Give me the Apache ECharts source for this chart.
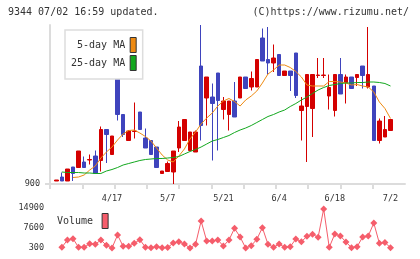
<!DOCTYPE html>
<html><head><meta charset="utf-8">
<script src="https://cdn.jsdelivr.net/npm/echarts@6/dist/echarts.min.js"></script>
<style>html,body{margin:0;padding:0;background:#fff}#c{width:420px;height:259px}</style>
</head><body><div id="c"></div>
<script>
// ---- data ----
const tickIdx  = [10, 20, 30, 40, 50, 60];
const tickText = ['4/17', '5/7', '5/21', '6/4', '6/18', '7/2'];

const opens  = [906,914,906,934,933,944,948,956,947,1009,959,1126,1039,987,1005,1044,992,987,974,921,925,924,972,987,967,964,1136,1072,1074,1122,1049,1039,1066,1072,1114,1094,1094,1192,1149,1142,1159,1117,1126,1162,1047,1055,1051,1117,1117,1076,1047,1119,1103,1114,1113,1136,1094,1096,987,994,1007];
const closes = [908,906,930,921,966,933,949,921,1009,999,996,1039,999,1006,1006,1009,972,959,933,926,941,966,1014,1029,1004,1004,1017,1114,1061,1067,1066,1066,1034,1114,1091,1111,1149,1146,1142,1152,1117,1126,1117,1077,1056,1119,1119,1118,1118,1093,1119,1080,1114,1091,1119,1117,1119,987,1026,1009,1029];
const lows   = [906,906,906,906,933,933,939,921,925,942,959,1027,994,987,991,1009,972,959,933,921,925,900,964,987,967,964,987,1017,947,967,1029,1007,1034,1072,1091,1087,1094,1146,1119,1124,1117,1117,1086,1072,987,944,994,1112,1112,1049,1035,1080,1061,1091,1096,1091,1091,987,981,994,1007];
const highs  = [908,923,930,934,966,955,959,967,1015,1009,996,1126,1039,1008,1063,1044,1011,987,974,926,945,966,1026,1029,1004,1007,1218,1114,1101,1122,1074,1066,1104,1114,1114,1125,1149,1211,1214,1179,1159,1126,1126,1162,1074,1119,1119,1152,1152,1119,1119,1152,1119,1114,1119,1136,1214,1096,1031,1036,1029];
const ma5    = [null,null,null,913,914,918,928,936,952,964,974,988,1000,1007,1008,1002,995,986,972,958,948,944,956,970,990,1004,1020,1032,1042,1056,1066,1071,1065,1056,1068,1076,1086,1102,1120,1128,1138,1138,1133,1125,1114,1098,1096,1096,1096,1105,1105,1104,1102,1098,1099,1096,1094,1084,1064,1051,1031];
const ma25   = [null,924,923,923,923,922,922,921,921,926,929,933,938,941,944,947,949,950,951,951,952,953,955,960,965,969,974,980,986,989,993,997,1003,1008,1012,1017,1023,1029,1035,1039,1044,1048,1055,1061,1068,1074,1081,1088,1093,1097,1099,1101,1102,1102,1103,1103,1104,1104,1103,1101,1096];
const volume = [null,560,3220,3700,560,560,1870,1650,3220,1280,300,5045,920,920,2000,3340,560,410,770,410,500,2120,2600,1760,300,1650,10155,2860,2860,3220,1030,3220,7490,4315,300,1140,3480,7720,1650,560,1760,560,770,3585,2600,4570,5300,4200,14535,560,5410,4680,2490,410,770,4315,4680,9425,2000,2300,410];
const priceLabels  = [900];
const volumeLabels = [300, 7600, 14900];

// ---- build ----
const mono = '"DejaVu Sans Mono", "Liberation Mono", monospace';
const candleData = opens.map((o, i) => [i, o, closes[i], lows[i], highs[i]]);
const pairs = arr => arr.map((v, i) => [i, v]).filter(p => p[1] !== null);

const xMin = -1.13, xMax = 62.6;
const xTicks = [];
for (let k = 0; k <= 11; k++) xTicks.push(xMin + k * (xMax - xMin) / 11);

const axisGray = '#dcdcdc';
const chart = echarts.init(document.getElementById('c'), null, {renderer: 'canvas', width: 420, height: 259});
chart.setOption({
  animation: false,
  backgroundColor: '#fff',
  graphic: [
    {type: 'text', left: 8, top: 7, style: {text: '9344 07/02 16:59 updated.', font: '10px ' + mono, fill: '#333'}},
    {type: 'text', right: 11, top: 7, style: {text: '(C)https://www.rizumu.net/', font: '10px ' + mono, fill: '#333'}}
  ],
  grid: [
    {left: 50, top: 25, width: 355, height: 159},
    {left: 50, top: 208, width: 355, height: 40}
  ],
  xAxis: [
    {type: 'value', gridIndex: 0, min: xMin, max: xMax,
     axisLine: {show: true, onZero: false, lineStyle: {color: axisGray, width: 2}},
     axisTick: {show: true, customValues: xTicks, length: 5, lineStyle: {color: axisGray, width: 2}},
     axisLabel: {customValues: tickIdx, formatter: v => { const j = tickIdx.indexOf(Math.round(v)); return j >= 0 ? tickText[j] : ''; },
                 fontFamily: mono, fontSize: 8.5, color: '#333', margin: 10},
     splitLine: {show: false}},
    {type: 'value', gridIndex: 1, min: xMin, max: xMax, show: false}
  ],
  yAxis: [
    {type: 'value', gridIndex: 0, min: 900, max: 1218,
     axisLine: {show: true, onZero: false, lineStyle: {color: axisGray, width: 2}},
     axisTick: {show: true, customValues: priceLabels, length: 5, lineStyle: {color: axisGray, width: 2}},
     axisLabel: {customValues: priceLabels, formatter: v => String(v), fontFamily: mono, fontSize: 8.5, color: '#333', margin: 10},
     splitLine: {show: false}},
    {type: 'value', gridIndex: 1, min: 300, max: 14900,
     axisLine: {show: false}, axisTick: {show: false}, splitLine: {show: false},
     axisLabel: {customValues: volumeLabels, formatter: v => String(v), fontFamily: mono, fontSize: 8.5, color: '#333', margin: 6}}
  ],
  legend: [
    {data: ['5-day MA', '25-day MA'], orient: 'vertical', align: 'right', left: 65, top: 30,
     padding: [7, 6, 8, 6], itemGap: 2, itemWidth: 6, itemHeight: 15, icon: 'rect',
     backgroundColor: '#fff', borderColor: '#dddddd', borderWidth: 1.5, selectedMode: false,
     textStyle: {fontFamily: mono, fontSize: 10, color: '#333'},
     itemStyle: {borderColor: '#333', borderWidth: 1}},
    {data: ['Volume'], orient: 'horizontal', align: 'right', left: 57, top: 213, padding: 0,
     itemWidth: 6, itemHeight: 15, icon: 'rect', selectedMode: false,
     textStyle: {fontFamily: mono, fontSize: 10, color: '#333', padding: [0, 4, 0, 0]},
     itemStyle: {borderColor: '#333', borderWidth: 1}}
  ],
  series: [
    {type: 'candlestick', name: 'price', xAxisIndex: 0, yAxisIndex: 0,
     dimensions: ['x', 'open', 'close', 'lowest', 'highest'],
     encode: {x: 'x', y: ['open', 'close', 'lowest', 'highest']},
     barWidth: 4,
     itemStyle: {color: '#d40000', color0: '#3f44bd', borderColor: '#d40000', borderColor0: '#3f44bd', borderWidth: 1},
     data: candleData},
    {type: 'line', name: '5-day MA', xAxisIndex: 0, yAxisIndex: 0, data: pairs(ma5), symbol: 'none',
     color: '#ee8a12', lineStyle: {width: 1, color: '#ee8a12'}, z: 3},
    {type: 'line', name: '25-day MA', xAxisIndex: 0, yAxisIndex: 0, data: pairs(ma25), symbol: 'none',
     color: '#12a81e', lineStyle: {width: 1, color: '#12a81e'}, z: 3},
    {type: 'line', name: 'Volume', xAxisIndex: 1, yAxisIndex: 1, data: pairs(volume), symbol: 'diamond', symbolSize: 7,
     clip: false, color: '#f55d6b', lineStyle: {width: 1, color: '#f55d6b'}, itemStyle: {color: '#f55d6b'}}
  ]
});
</script>
</body></html>
